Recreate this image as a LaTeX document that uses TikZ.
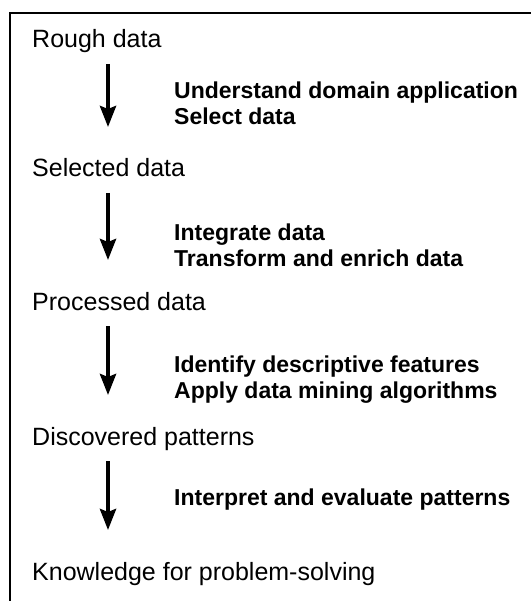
\documentclass[tikz,border=0pt]{standalone}
\usepackage{fontspec}
\setmainfont{Liberation Sans}
\usetikzlibrary{arrows.meta}

\begin{document}
\begin{tikzpicture}[x=1pt,y=-1pt,
   stage/.style={anchor=base west,inner sep=0pt,font=\fontsize{25}{30}\selectfont},
   task/.style={anchor=base west,inner sep=0pt,align=left,font=\fontsize{23}{26}\selectfont\bfseries},
   flow/.style={line width=4pt,-{Stealth[length=21pt,width=16pt,inset=3pt]}}]
   \useasboundingbox (0,0) rectangle (531,601);
   \draw[line width=1.5pt] (10,601) -- (10,13) -- (531,13);

   \node[stage] (rough) at (32,48) {Rough data};
   \node[stage] (selected) at (32,177) {Selected data};
   \node[stage] (processed) at (32,310) {Processed data};
   \node[stage] (discovered) at (32,445) {Discovered patterns};
   \node[stage] (knowledge) at (32,580) {Knowledge for problem-solving};

   % two-line nodes sit on their last line
   \node[task] (select) at (174,125) {Understand domain application\\Select data};
   \node[task] (prepare) at (174,266) {Integrate data\\Transform and enrich data};
   \node[task] (mine) at (174,398) {Identify descriptive features\\Apply data mining algorithms};
   \node[task] (interpret) at (174,505) {Interpret and evaluate patterns};

   \foreach \a/\b in {rough/selected,selected/processed,processed/discovered,discovered/knowledge}
      \draw[flow] ([xshift=76pt,yshift=-16pt]\a.base west) -- ([xshift=76pt,yshift=50pt]\b.base west);
\end{tikzpicture}
\end{document}
